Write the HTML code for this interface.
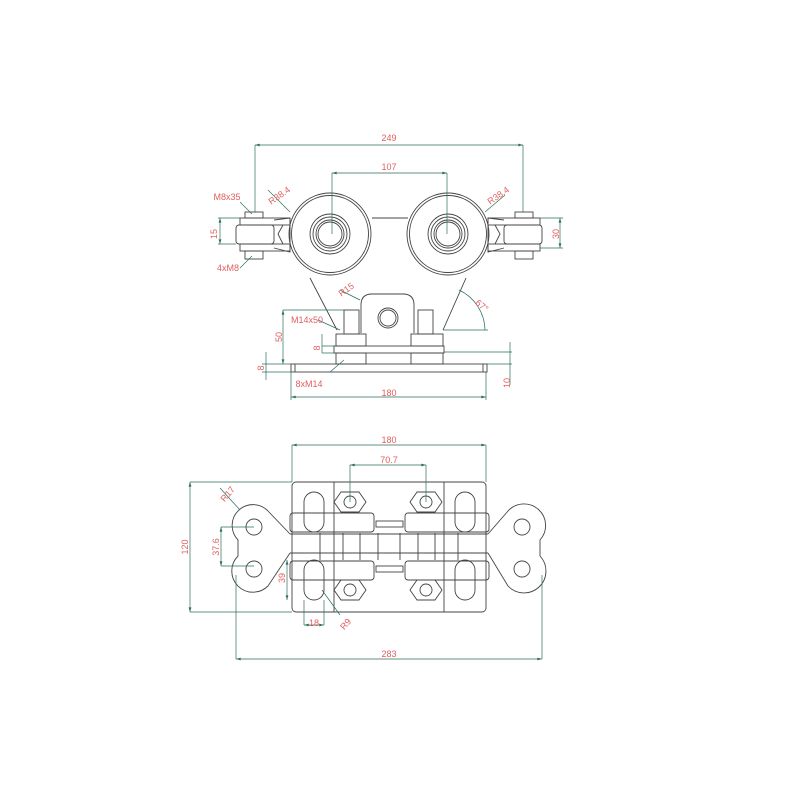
<!DOCTYPE html>
<html><head><style>body{margin:0;background:#fff}svg{display:block}</style></head><body>
<svg width="800" height="800" viewBox="0 0 800 800" xmlns="http://www.w3.org/2000/svg" font-family="Liberation Sans, sans-serif">
<defs>
<marker id="a" viewBox="0 0 10 6" refX="10" refY="3" markerWidth="7" markerHeight="4" orient="auto-start-reverse"><path d="M0,0L10,3L0,6z" fill="#2e6e5e"/></marker>
</defs>
<rect width="800" height="800" fill="#fff"/>
<g fill="none" stroke="#444" stroke-width="0.9">
<path d="M372,218H408M310,278L337,330M466,278L443,330"/>
<circle cx="330" cy="234" r="41"/><circle cx="330" cy="234" r="38.5"/>
<circle cx="448" cy="234" r="41"/><circle cx="448" cy="234" r="38.5"/>
<circle cx="330" cy="234" r="20"/><circle cx="330" cy="234" r="17"/><circle cx="330" cy="234" r="14"/><circle cx="330" cy="234" r="12"/>
<circle cx="448" cy="234" r="20"/><circle cx="448" cy="234" r="17"/><circle cx="448" cy="234" r="14"/><circle cx="448" cy="234" r="12"/>
<rect x="240" y="218" width="50" height="7"/><rect x="240" y="244" width="50" height="7"/>
<rect x="236" y="225" width="38" height="19" rx="3"/><path d="M274,220L290,218V252L274,248M283,225L278,234L283,244"/>
<rect x="245" y="212" width="18" height="6"/><rect x="245" y="251" width="18" height="8"/>
<rect x="488" y="218" width="52" height="7"/><rect x="488" y="244" width="52" height="7"/>
<rect x="504" y="225" width="38" height="19" rx="3"/><path d="M504,220L488,218V252L504,248M495,225L500,234L495,244"/>
<rect x="515" y="212" width="18" height="6"/><rect x="515" y="251" width="18" height="8"/>
<path d="M361,333V305Q361,294 372,294H403Q414,294 414,305V333"/>
<circle cx="388" cy="318" r="10"/><circle cx="388" cy="318" r="8"/>
<rect x="344" y="310" width="15" height="24"/><rect x="418" y="310" width="15" height="24"/>
<rect x="336" y="334" width="30" height="12"/><rect x="411" y="334" width="32" height="12"/>
<rect x="334" y="346" width="110" height="7"/>
<rect x="336" y="353" width="30" height="11"/><rect x="411" y="353" width="32" height="11"/>
<rect x="291" y="364" width="196" height="8"/>
<path d="M295,364V372M483,364V372"/>
<rect x="292" y="482" width="194" height="130" rx="4"/>
<path d="M334,482V612M444,482V612M320,533V560M343,533V560M360,533V560M378,533V560M400,533V560M418,533V560M435,533V560M458,533V560"/>
<rect x="304" y="492" width="20" height="40" rx="10"/><rect x="455" y="492" width="20" height="40" rx="10"/>
<rect x="304" y="560" width="20" height="40" rx="10"/><rect x="455" y="560" width="20" height="40" rx="10"/>
<path d="M290,534H488M290,553H488"/>
<path d="M290,534L268,511A19,19 0 1 0 238,540V556A19,19 0 1 0 268,586L290,553"/>
<path d="M488,534L508,511A19,19 0 1 1 540,540V556A19,19 0 1 1 508,586L488,553"/>
<circle cx="254" cy="527" r="8"/><circle cx="254" cy="569" r="8"/><circle cx="522" cy="527" r="8"/><circle cx="522" cy="569" r="8"/>
<rect x="290" y="513" width="84" height="19" rx="3"/><rect x="405" y="513" width="84" height="19" rx="3"/>
<rect x="290" y="561" width="84" height="19" rx="3"/><rect x="405" y="561" width="84" height="19" rx="3"/>
<rect x="376" y="521" width="27" height="6"/><rect x="376" y="566" width="27" height="6"/>
<polygon points="341,492 359,492 366,502 359,512 341,512 334,502"/><circle cx="350" cy="502" r="6"/>
<polygon points="417,492 435,492 442,502 435,512 417,512 410,502"/><circle cx="426" cy="502" r="6"/>
<polygon points="341,580 359,580 366,590 359,600 341,600 334,590"/><circle cx="350" cy="590" r="6"/>
<polygon points="417,580 435,580 442,590 435,600 417,600 410,590"/><circle cx="426" cy="590" r="6"/>
</g>
<g fill="none" stroke="#2e6e5e" stroke-width="0.7">
<path d="M255,145H523" marker-start="url(#a)" marker-end="url(#a)"/><path d="M255,145V212M523,145V212"/>
<path d="M332,173H447" marker-start="url(#a)" marker-end="url(#a)"/><path d="M332,173V234M447,173V234"/>
<path d="M220,218V244" marker-start="url(#a)" marker-end="url(#a)"/><path d="M218,218H240M218,244H236"/>
<path d="M560,218V248" marker-start="url(#a)" marker-end="url(#a)"/><path d="M540,218H563M540,248H563"/>
<path d="M283,310V364" marker-start="url(#a)" marker-end="url(#a)"/><path d="M283,310H344"/>
<path d="M322,334V353"/><path d="M322,346H334M322,353H334"/>
<path d="M266,352V380"/><path d="M262,364H291M262,372H291"/>
<path d="M510,342V385"/><path d="M444,352H512M487,364H512"/>
<path d="M291,397H486" marker-start="url(#a)" marker-end="url(#a)"/><path d="M291,372V400M486,372V400"/>
<path d="M459,290A45,45 0 0 1 485,330"/><path d="M443,330H488"/>
<path d="M292,445H486" marker-start="url(#a)" marker-end="url(#a)"/><path d="M292,445V482M486,445V482"/>
<path d="M350,465H426" marker-start="url(#a)" marker-end="url(#a)"/><path d="M350,465V502M426,465V502"/>
<path d="M190,482V612" marker-start="url(#a)" marker-end="url(#a)"/><path d="M190,482H292M190,612H292"/>
<path d="M221,527V566" marker-start="url(#a)" marker-end="url(#a)"/><path d="M221,527H254M221,566H254"/>
<path d="M287,560V600" marker-start="url(#a)" marker-end="url(#a)"/>
<path d="M304,625H324" marker-start="url(#a)" marker-end="url(#a)"/><path d="M304,600V625M324,600V625"/>
<path d="M236,659H542" marker-start="url(#a)" marker-end="url(#a)"/><path d="M236,575V659M542,575V659"/>
<path d="M220,488L240,510M322,590L340,615M268,190L290,212M485,212L505,195M340,290L360,300M240,202L252,214M240,268L252,256M318,320L340,330M330,372L344,360"/>
</g>
<g fill="#e06060" font-size="9" text-anchor="middle">
<text x="389" y="141">249</text><text x="389" y="170">107</text>
<text x="227" y="200">M8x35</text><text x="228" y="271">4xM8</text>
<text x="217" y="234" transform="rotate(-90 217 234)">15</text>
<text x="559" y="234" transform="rotate(-90 559 234)">30</text>
<text x="281" y="198" transform="rotate(-35 281 198)">R38.4</text>
<text x="500" y="198" transform="rotate(-35 500 198)">R38.4</text>
<text x="348" y="292" transform="rotate(-35 348 292)">R15</text>
<text x="480" y="308" transform="rotate(40 480 308)">67°</text>
<text x="307" y="323">M14x50</text>
<text x="282" y="337" transform="rotate(-90 282 337)">50</text>
<text x="320" y="348" transform="rotate(-90 320 348)">8</text>
<text x="264" y="368" transform="rotate(-90 264 368)">8</text>
<text x="510" y="383" transform="rotate(-90 510 383)">10</text>
<text x="309" y="387">8xM14</text><text x="389" y="396">180</text>
<text x="389" y="443">180</text><text x="389" y="463">70.7</text>
<text x="230" y="496" transform="rotate(-50 230 496)">R17</text>
<text x="188" y="547" transform="rotate(-90 188 547)">120</text>
<text x="219" y="547" transform="rotate(-90 219 547)">37.6</text>
<text x="285" y="578" transform="rotate(-90 285 578)">39</text>
<text x="314" y="626">18</text>
<text x="348" y="626" transform="rotate(-50 348 626)">R9</text>
<text x="389" y="657">283</text>
</g>
</svg>
</body></html>
